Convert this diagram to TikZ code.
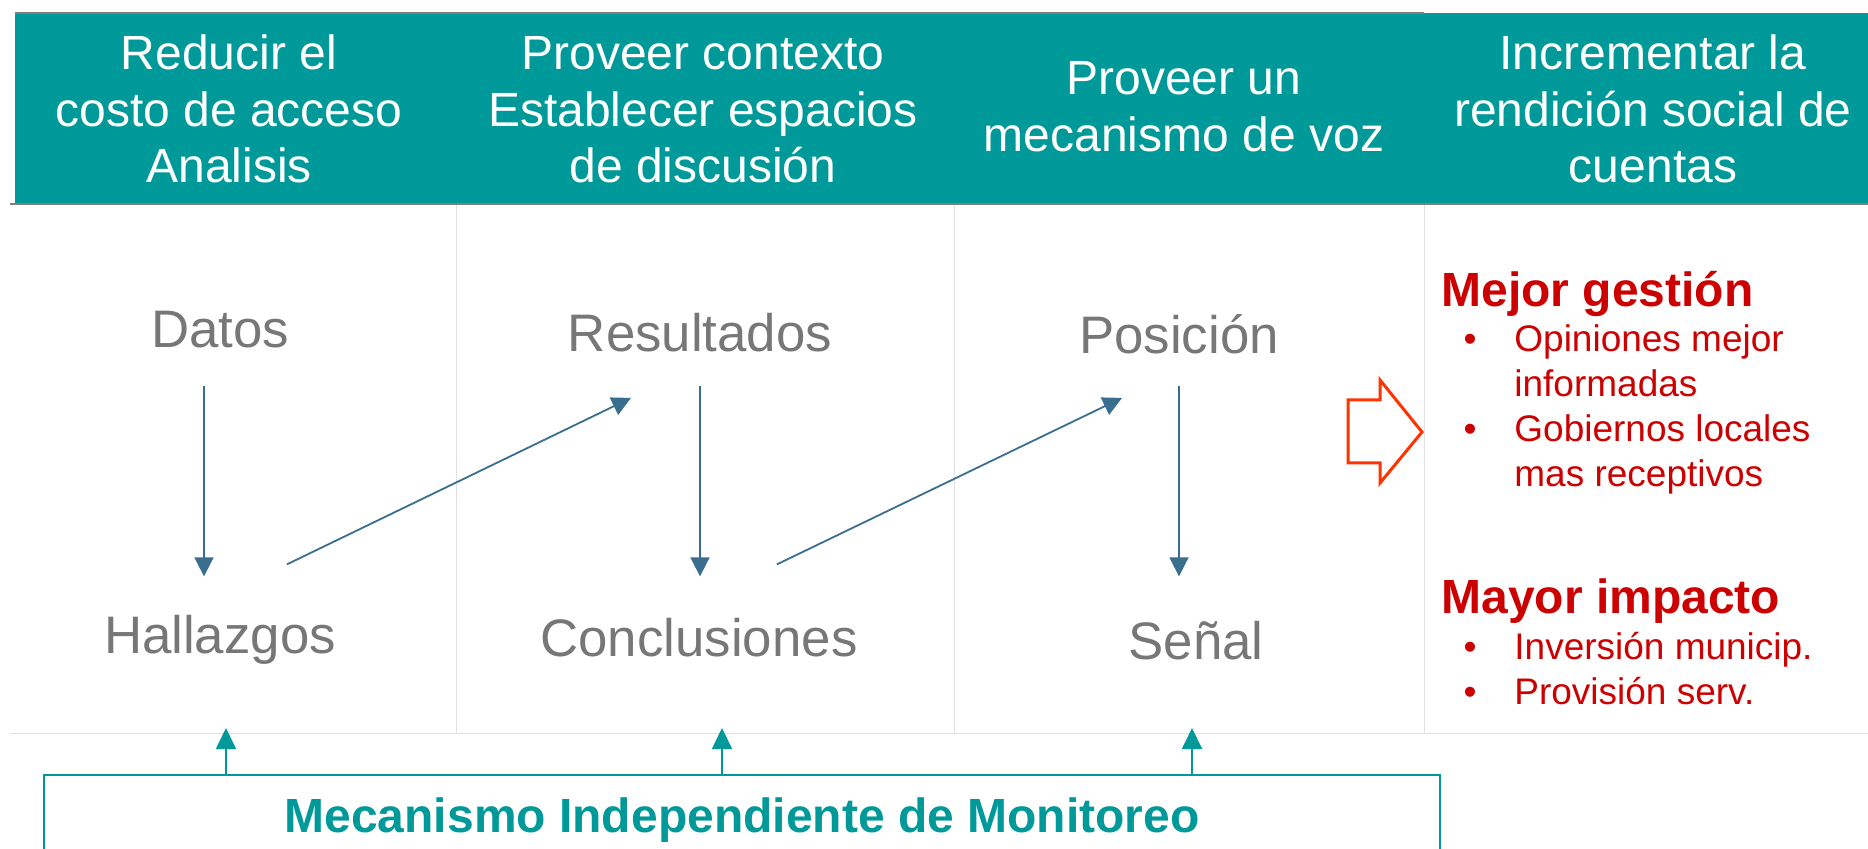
\documentclass[tikz,border=0pt]{standalone}
\usepackage{fontspec}
\setmainfont{Liberation Sans}
\usetikzlibrary{arrows.meta}

\definecolor{headteal}{RGB}{0,153,153}
\definecolor{stagegray}{RGB}{119,119,119}
\definecolor{flowblue}{RGB}{58,110,143}
\definecolor{goalred}{RGB}{204,0,0}
\definecolor{arroworange}{RGB}{255,51,0}
\definecolor{rulegray}{RGB}{128,128,128}
\definecolor{sepgray}{RGB}{224,224,224}

\tikzset{
  headtext/.style={anchor=base,inner sep=0pt,text=white,font=\fontsize{24}{28}\selectfont},
  stage/.style={anchor=base,inner sep=0pt,text=stagegray,font=\fontsize{26.4}{31}\selectfont},
  goal/.style={anchor=base west,inner sep=0pt,text=goalred,font=\fontsize{24}{28}\selectfont\bfseries},
  bulletitem/.style={anchor=base west,inner sep=0pt,text=goalred,font=\fontsize{18.5}{22}\selectfont},
  bulletmark/.style={anchor=base,inner sep=0pt,text=goalred,font=\fontsize{18.5}{22}\selectfont},
  flow/.style={draw=flowblue,line width=0.9pt,-{Triangle[length=9.5pt,width=9.5pt]}},
  feed/.style={draw=headteal,line width=0.9pt,-{Triangle[length=10.5pt,width=10pt]}},
  colsep/.style={draw=sepgray,line width=0.5pt}
}

\begin{document}
\begin{tikzpicture}[x=0.5pt,y=-0.5pt]
 \useasboundingbox (0,0) rectangle (1868,849);
 \clip (0,0) rectangle (1868,849);

 % header band
 \fill [headteal] (15,13) rectangle (1868,204);
 \draw [rulegray,line width=1pt] (15,13) -- (1424,13);
 \draw [rulegray,line width=1pt] (10,204) -- (1868,204);

 \foreach \t/\x/\y [count=\i] in {Reducir el/229/70, costo de acceso/229/127, Analisis/229/183,
   Proveer contexto/703/70, Establecer espacios/703/127, de discusión/703/183,
   Proveer un/1184/95, mecanismo de voz/1184/152,
   Incrementar la/1653/70, rendición social de/1653/127, cuentas/1653/183}
   \node [headtext] (head\i) at (\x,\y) {\t};

 % column rules
 \foreach \x in {456,954,1424}
   \draw [colsep] (\x,205) -- (\x,733);
 \draw [colsep] (10,733) -- (1868,733);

 % stages
 \node [stage] (datos) at (220,348) {Datos};
 \node [stage] (result) at (700,352) {Resultados};
 \node [stage] (posic) at (1179,354) {Posición};
 \node [stage] (hallaz) at (220,653) {Hallazgos};
 \node [stage] (concl) at (699,656) {Conclusiones};
 \node [stage] (senal) at (1196,659) {Señal};

 \draw [flow,shorten <=18.5pt,shorten >=19pt] ([xshift=-8pt]datos.south) -- ([xshift=-8pt]datos.south |- hallaz.north);
 \draw [flow,shorten <=16.5pt,shorten >=20.5pt] (result.south) -- (result.south |- concl.north);
 \draw [flow,shorten <=15.5pt,shorten >=22pt] (posic.south) -- (posic.south |- senal.north);

 \draw [flow] ([shift={(67,-50)}]hallaz.north) -- ([shift={(-69,45)}]result.south);
 \draw [flow] ([shift={(78,-53)}]concl.north) -- ([shift={(-57,43)}]posic.south);

 % outcome
 \draw [draw=arroworange,line width=1.5pt,fill=white]
   (1348,400) -- (1380,400) -- (1380,380) -- (1422,432) -- (1380,483) -- (1380,463) -- (1348,463) -- cycle;

 \node [goal] (mejor) at (1441,307) {Mejor gestión};
 \node [bulletmark] (m1) at (1470,352) {•};
 \node [bulletitem] (opin) at (1514,352) {Opiniones mejor};
 \node [bulletitem] (opin2) at (1514,397) {informadas};
 \node [bulletmark] (m2) at (1470,442) {•};
 \node [bulletitem] (gob) at (1514,442) {Gobiernos locales};
 \node [bulletitem] (gob2) at (1514,487) {mas receptivos};

 \node [goal] (mayor) at (1441,613) {Mayor impacto};
 \node [bulletmark] (m3) at (1470,659) {•};
 \node [bulletitem] (inver) at (1514,659) {Inversión municip.};
 \node [bulletmark] (m4) at (1470,704) {•};
 \node [bulletitem] (provi) at (1514,704) {Provisión serv.};

 % monitoring box
 \node [draw=headteal,line width=1pt,minimum width=698pt,minimum height=45pt,inner sep=0pt,
   text=headteal,font=\fontsize{24}{28}\selectfont\bfseries] (monitor) at (742,820)
   {Mecanismo Independiente de Monitoreo};

 \coordinate (fb1) at (226,728);
 \coordinate (fb2) at (722,728);
 \coordinate (fb3) at (1192,728);
 \foreach \c in {fb1,fb2,fb3}
   \draw [feed] (monitor.north -| \c) -- (\c);
\end{tikzpicture}
\end{document}
